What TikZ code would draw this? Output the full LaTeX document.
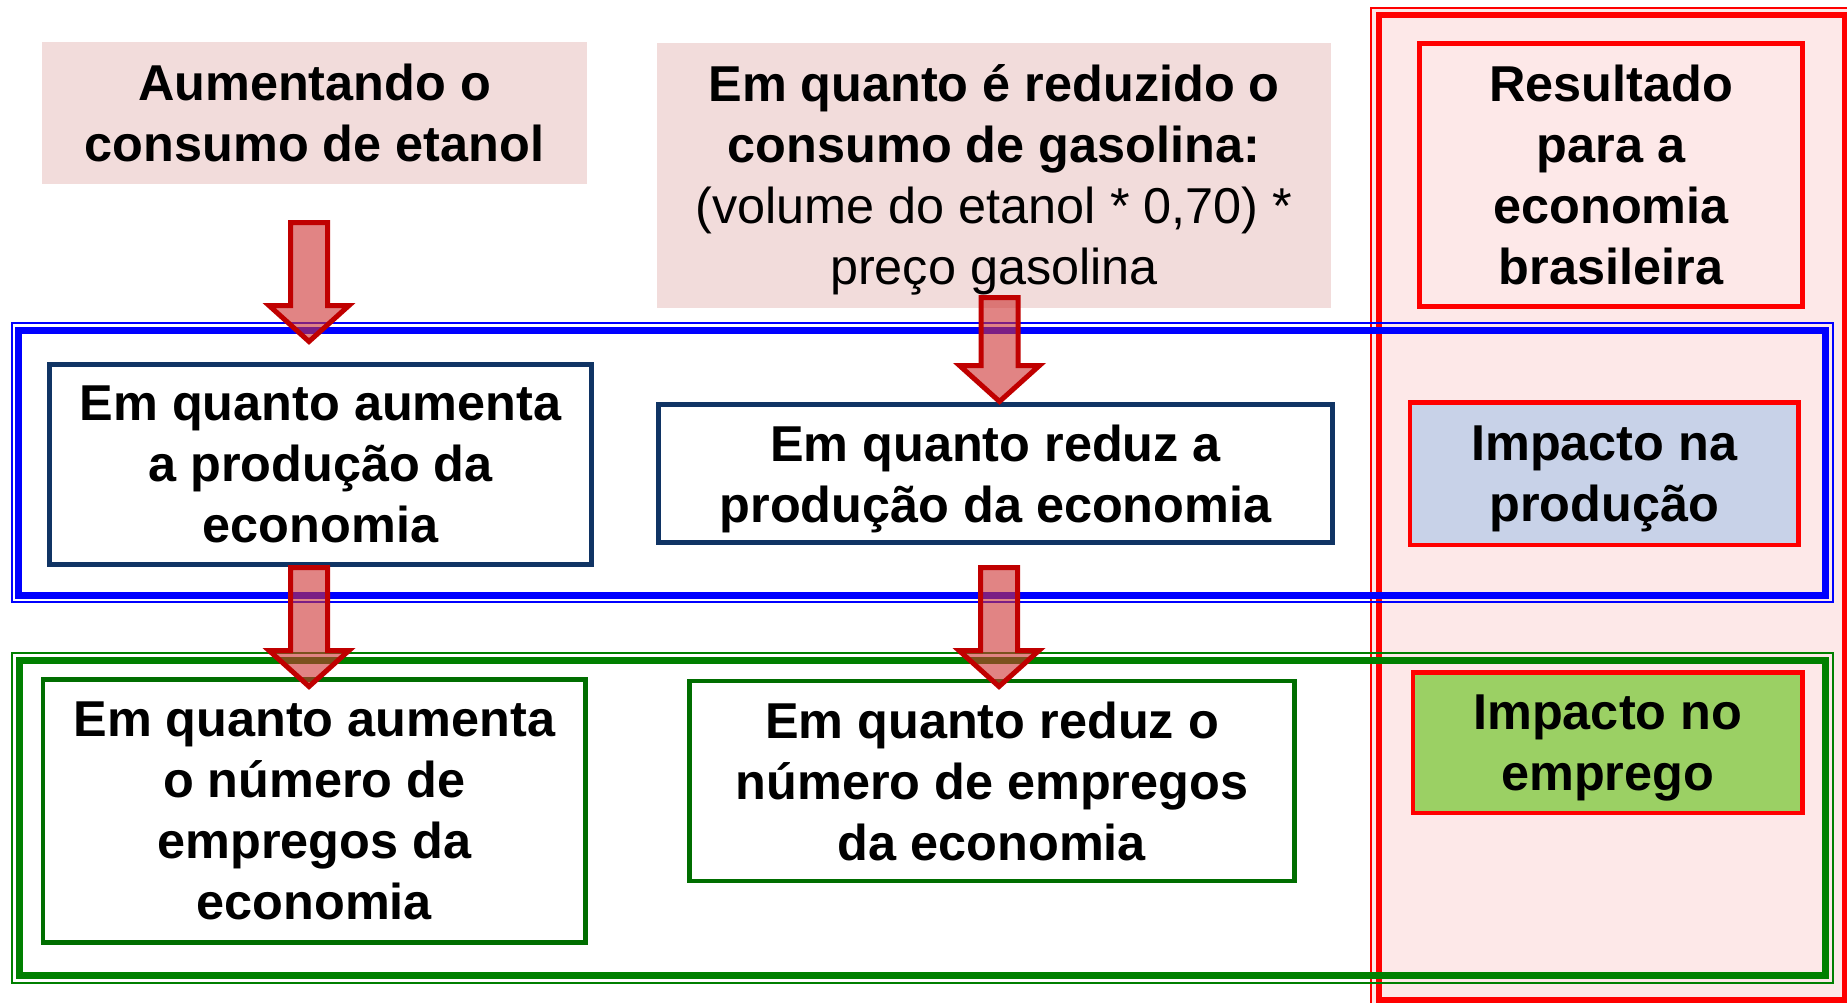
\documentclass[tikz,border=0pt]{standalone}
\usepackage{fontspec}
\setmainfont{Liberation Sans}
\definecolor{pinkbg}{RGB}{242,220,219}
\definecolor{framepink}{RGB}{253,232,232}
\definecolor{navy}{RGB}{16,52,100}
\definecolor{boxgreen}{RGB}{0,110,0}
\definecolor{framegreen}{RGB}{0,128,0}
\definecolor{framered}{RGB}{255,0,0}
\definecolor{arrred}{RGB}{192,0,0}
\definecolor{arrfill}{RGB}{205,50,50}
\definecolor{prodfill}{RGB}{200,210,232}
\definecolor{empfill}{RGB}{155,208,100}
\definecolor{frameblue}{RGB}{0,0,255}
\newcommand{\blkarrow}[4]{%
  \draw[blockarr] (#1-18.5,#2) -- (#1+18.5,#2) -- (#1+18.5,#3) -- (#1+40,#3)
    -- (#1,#4) -- (#1-40,#3) -- (#1-18.5,#3) -- cycle;}
\begin{document}
\begin{tikzpicture}[x=1pt,y=-1pt,
  txt/.style={font=\fontsize{50.4}{61}\selectfont\bfseries, align=center, text=black, inner sep=0pt, outer sep=0pt},
  pinkbox/.style={txt, fill=pinkbg, draw=none},
  navybox/.style={txt, draw=navy, line width=4.5pt, fill=white},
  greenbox/.style={txt, draw=boxgreen, line width=4.5pt, fill=white},
  redbox/.style={txt, draw=framered, line width=4.5pt},
  blockarr/.style={draw=arrred, line width=5pt, fill=arrfill, fill opacity=0.6, line join=miter},
  thinline/.style={line width=2pt},
  thickline/.style={line width=7pt}]
\useasboundingbox (0,0) rectangle (1847,1002);
% right red column frame
\fill[framepink] (1371,7.5) rectangle (1852,1008);
\draw[framered, thinline] (1371,7.5) rectangle (1852,1008);
\draw[framered, line width=6pt] (1378.5,14.5) rectangle (1844.5,999.5);
% blue frame
\draw[frameblue, thinline] (11.5,323) rectangle (1832.5,602);
\draw[frameblue, thickline] (18.5,330) rectangle (1825.5,595);
% green frame
\draw[framegreen, thinline] (11.5,652.5) rectangle (1832.5,983);
\draw[framegreen, thickline] (19.5,660) rectangle (1825.5,975.5);
% top row
\node[pinkbox, minimum width=545pt, minimum height=142pt] (etanol) at (314.5,113)
  {Aumentando o\\consumo de etanol};
\node[pinkbox, minimum width=674pt, minimum height=265pt] (gasolina) at (994,175)
  {Em quanto é reduzido o\\consumo de gasolina:\\\textmd{(volume do etanol * 0,70) *}\\\smash{\textmd{preço gasolina}}};
\node[redbox, minimum width=383pt, minimum height=263pt] (resultado) at (1611,175)
  {Resultado\\para a\\economia\\brasileira};
% production row
\node[navybox, minimum width=542pt, minimum height=200pt] (aumprod) at (320.5,464.5)
  {Em quanto aumenta\\a produção da\\economia};
\node[navybox, minimum width=674pt, minimum height=138pt] (redprod) at (995.5,473.5)
  {Em quanto reduz a\\\smash{produção da economia}};
\node[redbox, fill=prodfill, minimum width=388.5pt, minimum height=142.5pt] (impprod) at (1604.25,473.75)
  {Impacto na\\\smash{produção}};
% employment row
\node[greenbox, minimum width=542.5pt, minimum height=263pt] (aumemp) at (314.25,811)
  {Em quanto aumenta\\o número de\\empregos da\\economia};
\node[greenbox, minimum width=605pt, minimum height=200pt] (redemp) at (992,781)
  {Em quanto reduz o\\número de empregos\\da economia};
\node[redbox, fill=empfill, minimum width=389.5pt, minimum height=140.5pt] (impemp) at (1607.75,742.75)
  {Impacto no\\\smash{emprego}};
% block arrows
\blkarrow{309}{222.5}{305.5}{341.5}
\blkarrow{999.5}{297.5}{365.5}{401.5}
\blkarrow{309}{567.5}{650.5}{686.5}
\blkarrow{999}{567.5}{650.5}{686.5}
\end{tikzpicture}
\end{document}
